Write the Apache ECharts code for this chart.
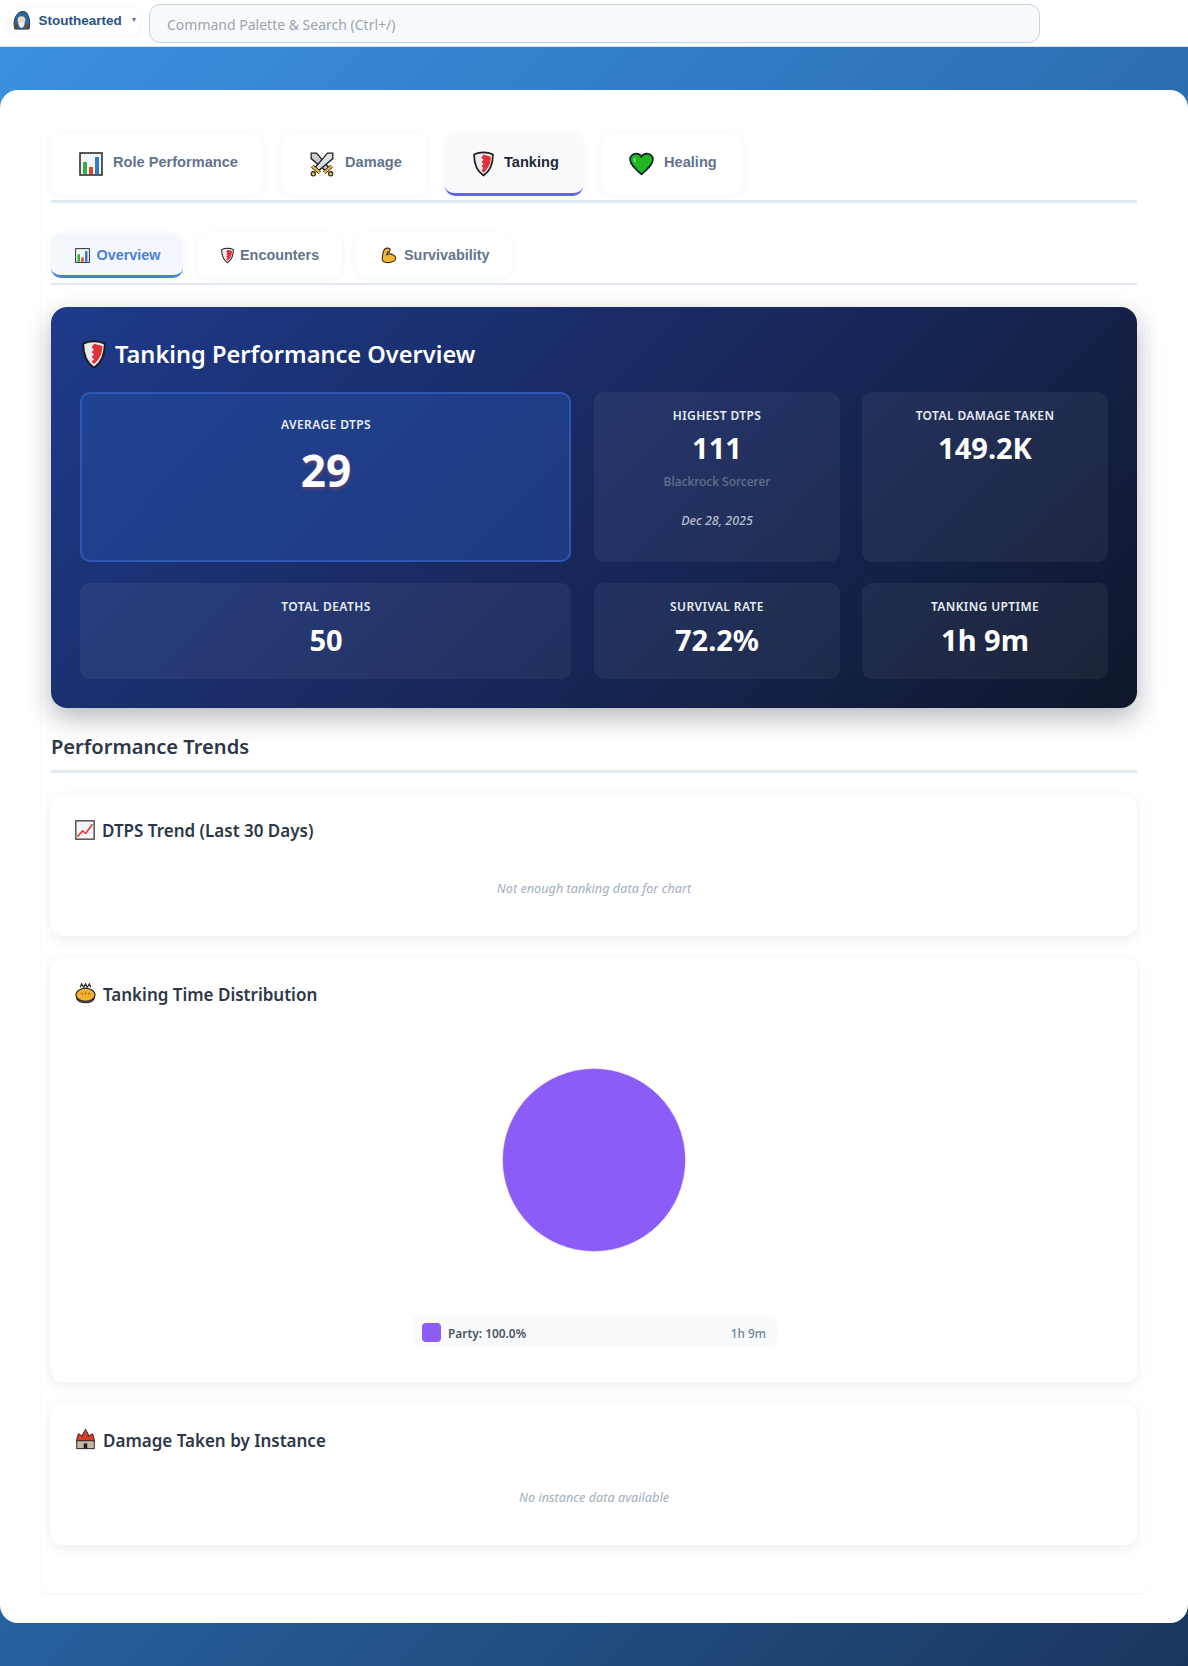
<!DOCTYPE html>
<html>
<head>
<meta charset="utf-8">
<title>Tanking</title>
<script src="https://cdn.jsdelivr.net/npm/echarts@6/dist/echarts.min.js"></script>
<style>
html, body { margin: 0; padding: 0; }
body { width: 1188px; height: 1666px; overflow: hidden; position: relative; background: #fff; font-family: "Noto Sans", sans-serif; }
.abs, .c, .l, .r { position: absolute; white-space: nowrap; }
.c { transform: translate(-50%, -50%); }
.l { transform: translateY(-50%); }
.r { transform: translate(-100%, -50%); }
.bg { position: absolute; left: 0; top: 46px; width: 1188px; height: 1620px; background: linear-gradient(135deg, #3b90e0 0%, #2b6cb0 45%, #1a365d 100%); }
.page { position: absolute; left: 0; top: 90px; width: 1188px; height: 1533px; background: #fff; border-radius: 18px; }
.wrap { position: absolute; left: 40px; top: 126px; width: 1108px; height: 1466px; border: 1px solid #fafbfd; border-bottom: 2px solid #f7f9fc; border-radius: 10px; }
.tab { position: absolute; background: #fff; border-radius: 10px; box-shadow: 0 1px 6px rgba(100,120,160,.07); }
.tab.on { background: #f9fafc; border-bottom: 3px solid #6366e1; box-sizing: border-box; }
.tab.subon { background: #f4f7fd; border-bottom: 3px solid #4a80d9; box-sizing: border-box; }
.tabtxt { font-family: "Liberation Sans", sans-serif; font-weight: 700; color: #64748b; }
.rule { position: absolute; left: 51px; width: 1086px; background: #e2e8f0; }
.hero { position: absolute; left: 51px; top: 307px; width: 1086px; height: 401px; border-radius: 16px; background: linear-gradient(135deg, #1e3a8a 0%, #172554 60%, #0f172a 100%); box-shadow: 0 10px 26px rgba(15,23,42,.3); }
.stat { position: absolute; border-radius: 10px; background: rgba(255,255,255,.055); box-sizing: border-box; }
.stat.main { background: linear-gradient(135deg, #214292, #1e3a80); border: 2px solid #2f58b4; }
.lab { color: #e8edf5; font-size: 12px; font-weight: 600; letter-spacing: .4px; }
.val { color: #fff; font-weight: 700; font-size: 29px; }
.card { position: absolute; left: 51px; width: 1086px; background: #fff; border-radius: 12px; box-shadow: 0 3px 12px rgba(30,50,90,.09); }
.cardtitle { color: #2d3748; font-size: 17px; font-weight: 600; }
.none { color: #a0aec0; font-size: 12.7px; font-style: italic; }
svg { position: absolute; overflow: visible; }
#pie { position: absolute; left: 51px; top: 1010px; width: 1086px; height: 300px; }
</style>
</head>
<body>
<svg width="0" height="0" style="position:absolute">
  <defs>
    <symbol id="i-chart" viewBox="0 0 24 24">
      <rect x="1" y="1" width="22" height="22" fill="#f4f6f8" stroke="#222" stroke-width="1.5"/>
      <rect x="4" y="10" width="4" height="12" fill="#2fb344"/>
      <rect x="10" y="15" width="4" height="7" fill="#e2452f"/>
      <rect x="16" y="5" width="4" height="17" fill="#2b7fd0"/>
    </symbol>
    <symbol id="i-swords" viewBox="0 0 24 24">
      <path d="M2 2 L7 2 L18 15 L15 18 L2 7 Z" fill="#c8ccd0" stroke="#222" stroke-width="1.2"/>
      <path d="M22 2 L17 2 L6 15 L9 18 L22 7 Z" fill="#dfe2e5" stroke="#222" stroke-width="1.2"/>
      <path d="M3 14 L10 20 M21 14 L14 20" stroke="#222" stroke-width="3.4"/>
      <path d="M3 14 L10 20 M21 14 L14 20" stroke="#e8b93c" stroke-width="2"/>
      <circle cx="4" cy="21" r="2" fill="#e8b93c" stroke="#222"/>
      <circle cx="20" cy="21" r="2" fill="#e8b93c" stroke="#222"/>
    </symbol>
    <symbol id="i-shield" viewBox="0 0 20 24">
      <path d="M10 1 C14 1 17 2 19 3 C19 12 16 19 10 23 C4 19 1 12 1 3 C3 2 6 1 10 1 Z" fill="#e9ecef" stroke="#1d1d1d" stroke-width="1.6"/>
      <path d="M10 3 L17 5 C17 12 14 17 10 20 L8 18 L10 16 L8 14 L10 12 L8 10 L10 8 L8 6 Z" fill="#e0313a"/>
    </symbol>
    <symbol id="i-heart" viewBox="0 0 24 22">
      <path d="M12 21 C5 15 1 11 1 6.5 C1 3 4 1 7 1 C9 1 11 2 12 4 C13 2 15 1 17 1 C20 1 23 3 23 6.5 C23 11 19 15 12 21 Z" fill="#1fb81f" stroke="#123" stroke-width="1.6"/>
      <path d="M6 5 C5 6 5 8 6 9" stroke="#8ce58c" stroke-width="1.6" fill="none"/>
    </symbol>
    <symbol id="i-arm" viewBox="0 0 20 20">
      <path d="M6 2 C8 1 11 1 12 3 L11 6 L9 6 L8 9 C10 8 13 8 15 9 C18 10 19 13 18 15 C16 18 10 19 6 18 C3 17 2 15 3 12 C3 8 4 4 6 2 Z" fill="#f2b632" stroke="#3a2a10" stroke-width="1.3"/>
    </symbol>
    <symbol id="i-trend" viewBox="0 0 24 24">
      <rect x="1" y="1" width="22" height="22" fill="#f5f5f5" stroke="#333" stroke-width="1.5"/>
      <path d="M3 20 L9 13 L13 16 L21 5" fill="none" stroke="#e0413a" stroke-width="2"/>
    </symbol>
    <symbol id="i-pie" viewBox="0 0 24 24">
      <path d="M2 18 C5 24 19 24 22 18 Z" fill="#9aa0a6" stroke="#222" stroke-width="1.2"/>
      <ellipse cx="12" cy="13.5" rx="11" ry="7.5" fill="#f3b02f" stroke="#222" stroke-width="1.3"/>
      <path d="M7 11 L9 13 M12 10 L12 13 M17 11 L15 13" stroke="#a8660c" stroke-width="1.3"/>
      <path d="M6 5 L7.5 1 L10 5 L12 1 L14 5 L16.5 1 L18 5" fill="none" stroke="#333" stroke-width="1.5"/>
    </symbol>
    <symbol id="i-castle" viewBox="0 0 24 24">
      <path d="M12 1 C14 5 16 6 15 9 L20 6 C22 10 22 14 22 16 L2 16 C2 14 2 10 4 6 L9 9 C8 6 10 5 12 1 Z" fill="#d8401f" stroke="#222" stroke-width="1.1"/>
      <rect x="2" y="14" width="20" height="9" fill="#c9b7a6" stroke="#222" stroke-width="1.1"/>
      <rect x="10" y="17" width="4" height="6" fill="#222"/>
    </symbol>
    <symbol id="i-user" viewBox="0 0 20 20">
      <path d="M3 19 C1 12 3 5 7 2 C10 0 15 0 16 3 C19 8 19 14 18 19 Z" fill="#2b6aa8" stroke="#1a2a3a"/>
      <circle cx="10" cy="9.5" r="4" fill="#f5d9b8"/>
      <path d="M6.5 12 C8 20 12 20 13.5 12 Z" fill="#eef2f5"/>
      <rect x="2.5" y="14" width="3.5" height="5" fill="#6a4a20"/>
      <rect x="14" y="14" width="3.5" height="5" fill="#6a4a20"/>
    </symbol>
  </defs>
</svg>

<div class="bg"></div>
<div class="page"></div>
<div class="wrap"></div>

<!-- top bar -->
<div class="abs" style="left:0;top:0;width:1188px;height:47px;background:#fff;border-bottom:1px solid #d6e2ee;box-sizing:border-box"></div>
<div class="abs" style="left:8px;top:8px;width:132px;height:26px;border-radius:8px;box-shadow:0 1px 5px rgba(100,120,160,.08)"></div>
<svg style="left:12px;top:11px" width="19" height="19"><use href="#i-user"/></svg>
<div class="l" id="user" style="left:38.5px;top:20px;font-family:'Liberation Sans',sans-serif;font-weight:700;font-size:13.5px;color:#2c5282"></div>
<div class="c" style="left:134px;top:19px;font-size:7px;color:#64748b">&#9660;</div>
<div class="abs" style="left:149px;top:4px;width:891px;height:39px;box-sizing:border-box;background:#f7fafd;border:1px solid #c4d3e2;border-radius:11px"></div>
<div class="l" id="search" style="left:167px;top:24px;font-size:14px;color:#9aa5b1"></div>

<!-- main tabs -->
<div class="tab" style="left:51px;top:133px;width:212px;height:62px"></div>
<div class="tab" style="left:281px;top:133px;width:146px;height:62px"></div>
<div class="tab on" style="left:445px;top:133px;width:138px;height:63px"></div>
<div class="tab" style="left:601px;top:133px;width:142px;height:62px"></div>
<div class="rule" style="top:200px;height:3px"></div>
<svg style="left:79px;top:152px" width="24" height="24"><use href="#i-chart"/></svg>
<svg style="left:309px;top:151px" width="26" height="26"><use href="#i-swords"/></svg>
<svg style="left:473px;top:151px" width="21" height="26"><use href="#i-shield"/></svg>
<svg style="left:629px;top:152px" width="25" height="24"><use href="#i-heart"/></svg>
<div class="l tabtxt mt" style="left:113px;top:161.5px;font-size:14.6px"></div>
<div class="l tabtxt mt" style="left:345px;top:161.5px;font-size:14.6px"></div>
<div class="l tabtxt mt" style="left:504px;top:161.5px;font-size:14.6px;color:#1f2937"></div>
<div class="l tabtxt mt" style="left:664px;top:161.5px;font-size:14.6px"></div>

<!-- sub tabs -->
<div class="tab subon" style="left:51px;top:233px;width:132px;height:45px"></div>
<div class="tab" style="left:197px;top:233px;width:145px;height:44px"></div>
<div class="tab" style="left:356px;top:233px;width:156px;height:44px"></div>
<div class="rule" style="top:283px;height:2px"></div>
<svg style="left:75px;top:248px" width="15" height="15"><use href="#i-chart"/></svg>
<svg style="left:221px;top:247px" width="13" height="17"><use href="#i-shield"/></svg>
<svg style="left:380px;top:247px" width="17" height="17"><use href="#i-arm"/></svg>
<div class="l tabtxt st" style="left:96.5px;top:255px;font-size:14.4px;color:#4a80d9"></div>
<div class="l tabtxt st" style="left:240px;top:255px;font-size:14.4px"></div>
<div class="l tabtxt st" style="left:404px;top:255px;font-size:14.4px"></div>

<!-- hero -->
<div class="hero"></div>
<svg style="left:82px;top:340px" width="24" height="29"><use href="#i-shield"/></svg>
<div class="l" id="hero" style="left:115px;top:354px;font-size:23.6px;font-weight:600;color:#fff"></div>
<div class="stat main" style="left:80px;top:392px;width:491px;height:170px"></div>
<div class="stat" style="left:594px;top:392px;width:246px;height:170px"></div>
<div class="stat" style="left:862px;top:392px;width:246px;height:170px"></div>
<div class="stat" style="left:80px;top:583px;width:491px;height:96px"></div>
<div class="stat" style="left:594px;top:583px;width:246px;height:96px"></div>
<div class="stat" style="left:862px;top:583px;width:246px;height:96px"></div>

<div class="c lab sl" style="left:326px;top:424px"></div>
<div class="c val sv" style="left:326px;top:470px;font-size:44px;text-shadow:0 2px 4px rgba(239,68,68,.35)"></div>
<div class="c lab sl" style="left:717px;top:415px"></div>
<div class="c val sv" style="left:717px;top:447px"></div>
<div class="c" id="boss" style="left:717px;top:481px;font-size:12px;font-weight:500;color:#64708c"></div>
<div class="c" id="date" style="left:717px;top:520px;font-size:12.5px;font-style:italic;font-weight:500;color:#b6bfd0"></div>
<div class="c lab sl" style="left:985px;top:415px"></div>
<div class="c val sv" style="left:985px;top:447px"></div>
<div class="c lab sl" style="left:326px;top:606px"></div>
<div class="c val sv" style="left:326px;top:639px"></div>
<div class="c lab sl" style="left:717px;top:606px"></div>
<div class="c val sv" style="left:717px;top:639px"></div>
<div class="c lab sl" style="left:985px;top:606px"></div>
<div class="c val sv" style="left:985px;top:639px"></div>

<!-- trends -->
<div class="l" id="trends" style="left:51px;top:746px;font-size:20.1px;font-weight:600;color:#2d3748"></div>
<div class="rule" style="top:770px;height:3px"></div>

<div class="card" style="top:795px;height:141px"></div>
<svg style="left:75px;top:820px" width="20" height="20"><use href="#i-trend"/></svg>
<div class="l cardtitle ct" style="left:102px;top:830px"></div>
<div class="c none" id="none1" style="left:594px;top:888px"></div>

<div class="card" style="top:958px;height:424px"></div>
<svg style="left:75px;top:983px" width="21" height="21"><use href="#i-pie"/></svg>
<div class="l cardtitle ct" style="left:103px;top:993.5px"></div>
<div id="pie"></div>
<div class="abs" style="left:412px;top:1315px;width:365px;height:33px;background:#f8fafc;border-radius:8px"></div>
<div class="abs" id="swatch" style="left:422px;top:1323px;width:19px;height:19px;border-radius:4px"></div>
<div class="l" id="legname" style="left:448px;top:1333px;font-size:11.9px;font-weight:600;color:#4a5568"></div>
<div class="r" id="legtime" style="left:766px;top:1333px;font-size:11.8px;font-weight:500;color:#718096"></div>

<div class="card" style="top:1403px;height:142px"></div>
<svg style="left:75px;top:1428px" width="21" height="22"><use href="#i-castle"/></svg>
<div class="l cardtitle ct" style="left:103px;top:1439.5px"></div>
<div class="c none" id="none2" style="left:594px;top:1497px"></div>

<script>
var userName = 'Stouthearted';
var searchHint = 'Command Palette & Search (Ctrl+/)';
var mainTabs = ['Role Performance', 'Damage', 'Tanking', 'Healing'];
var subTabs = ['Overview', 'Encounters', 'Survivability'];
var heroTitle = 'Tanking Performance Overview';
var statLabels = ['AVERAGE DTPS', 'HIGHEST DTPS', 'TOTAL DAMAGE TAKEN', 'TOTAL DEATHS', 'SURVIVAL RATE', 'TANKING UPTIME'];
var statValues = ['29', '111', '149.2K', '50', '72.2%', '1h 9m'];
var highestBoss = 'Blackrock Sorcerer';
var highestDate = 'Dec 28, 2025';
var sectionTitle = 'Performance Trends';
var cardTitles = ['DTPS Trend (Last 30 Days)', 'Tanking Time Distribution', 'Damage Taken by Instance'];
var emptyTrend = 'Not enough tanking data for chart';
var emptyInstance = 'No instance data available';

// tanking time, minutes per content type
var pieNames = ['Party'];
var pieMinutes = [69];
var piePercent = ['100.0%'];
var pieTimes = ['1h 9m'];
var pieColors = ['#8b5cf6'];

function fill(selector, list) {
    var els = document.querySelectorAll(selector);
    for (var i = 0; i < els.length; i++) {
        els[i].textContent = list[i];
    }
}
function setText(id, text) {
    document.getElementById(id).textContent = text;
}

setText('user', userName);
setText('search', searchHint);
fill('.mt', mainTabs);
fill('.st', subTabs);
setText('hero', heroTitle);
fill('.sl', statLabels);
fill('.sv', statValues);
setText('boss', highestBoss);
setText('date', highestDate);
setText('trends', sectionTitle);
fill('.ct', cardTitles);
setText('none1', emptyTrend);
setText('none2', emptyInstance);
setText('legname', pieNames[0] + ': ' + piePercent[0]);
setText('legtime', pieTimes[0]);
document.getElementById('swatch').style.background = pieColors[0];

function graficoTiempo() {
    var dom = document.getElementById('pie');
    var myChart = echarts.init(dom, null, { renderer: 'canvas' });
    var rows = [];
    for (var i = 0; i < pieNames.length; i++) {
        rows.push({ name: pieNames[i], value: pieMinutes[i], itemStyle: { color: pieColors[i] } });
    }
    var option = {
        animation: false,
        series: [{
            type: 'pie',
            center: [543, 150],
            radius: [0, 91.5],
            silent: true,
            label: { show: false },
            labelLine: { show: false },
            itemStyle: { borderColor: '#f3e8ff', borderWidth: 0.6 },
            data: rows
        }]
    };
    myChart.setOption(option);
}
graficoTiempo();
</script>
</body>
</html>
